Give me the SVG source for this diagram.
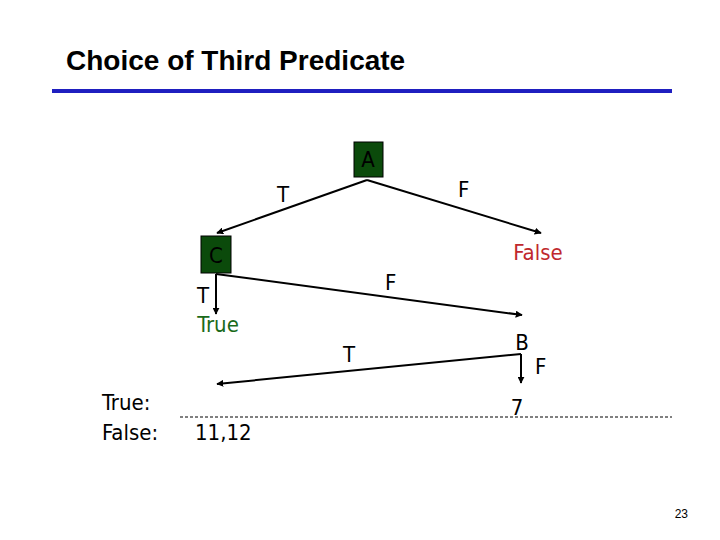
<svg xmlns="http://www.w3.org/2000/svg" width="720" height="540" viewBox="0 0 720 540">
<defs>
<marker id="ar" viewBox="0 0 10 10" refX="9" refY="5" markerWidth="7" markerHeight="7" orient="auto" markerUnits="userSpaceOnUse"><path d="M0,0 L10,5 L0,10 z" fill="#000"/></marker>
<style>
text{font-family:"DejaVu Sans Condensed","DejaVu Sans",sans-serif;font-size:22px;fill:#000}
.n{fill:#0b4a0b;stroke:#000;stroke-width:1}
.l{stroke:#000;stroke-width:2;fill:none;marker-end:url(#ar)}
</style>
</defs>
<rect width="720" height="540" fill="#fff"/>
<text x="66" y="70" style="font-family:'Liberation Sans',Arial,sans-serif;font-size:28px;font-weight:bold">Choice of Third Predicate</text>
<rect x="52" y="89" width="620" height="4" fill="#1f1fc0"/>
<g id="connectors">
<line class="l" x1="367" y1="180" x2="217" y2="233"/>
<line class="l" x1="367" y1="180" x2="541" y2="233"/>
<line class="l" x1="216" y1="274" x2="216" y2="314"/>
<line class="l" x1="216" y1="274" x2="522" y2="315"/>
<line class="l" x1="521" y1="354" x2="217" y2="384"/>
<line class="l" x1="521" y1="354" x2="521" y2="383"/>
<text x="277" y="202">T</text>
<text x="458" y="197">F</text>
<text x="197" y="303">T</text>
<text x="385" y="290">F</text>
<text x="343" y="362">T</text>
<text x="535" y="374">F</text>
</g>
<g id="A"><rect class="n" x="354" y="142" width="29" height="35"/><text x="368" y="167" text-anchor="middle">A</text></g>
<g id="C"><rect class="n" x="201" y="236" width="30" height="37"/><text x="216" y="263" text-anchor="middle">C</text></g>
<g id="False"><text x="538" y="260" text-anchor="middle" style="fill:#c0282d">False</text></g>
<g id="True"><text x="218" y="332" text-anchor="middle" style="fill:#1a6a1a">True</text></g>
<g id="B"><text x="522" y="350" text-anchor="middle">B</text></g>
<g id="seven"><text x="517" y="415" text-anchor="middle">7</text></g>
<line x1="180" y1="417" x2="672" y2="417" stroke="#000" stroke-width="1" stroke-dasharray="3,2"/>
<text x="102" y="410">True:</text>
<text x="102" y="440">False:</text>
<text x="195" y="440">11,12</text>
<text x="688" y="518" text-anchor="end" style="font-family:'Liberation Sans',Arial,sans-serif;font-size:12px">23</text>
</svg>
